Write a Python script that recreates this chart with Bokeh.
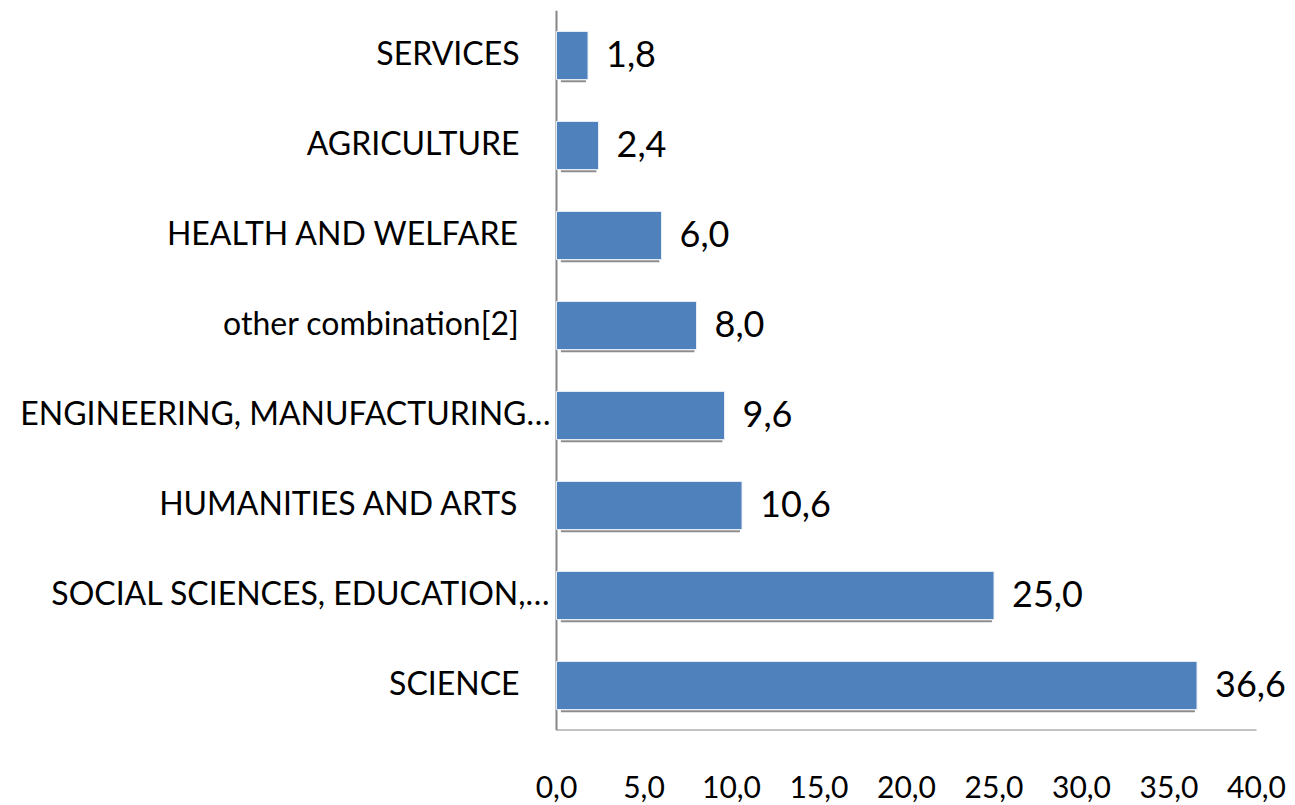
from bokeh.plotting import figure
from bokeh.models import ColumnDataSource, FixedTicker, LabelSet
from bokeh.transform import dodge
from bokeh.core.properties import value
from bokeh.embed import file_html
from bokeh.resources import INLINE

categories = ["SERVICES", "AGRICULTURE", "HEALTH AND WELFARE", "other combination[2]",
              "ENGINEERING, MANUFACTURING…", "HUMANITIES AND ARTS",
              "SOCIAL SCIENCES, EDUCATION,…", "SCIENCE"]
values = [1.8, 2.4, 6.0, 8.0, 9.6, 10.6, 25.0, 36.6]
x_ticks = [0, 5, 10, 15, 20, 25, 30, 35, 40]
x_tick_labels = ["0,0", "5,0", "10,0", "15,0", "20,0", "25,0", "30,0", "35,0", "40,0"]

FONT = "Lato"
BAR = "#4F81BD"
AXIS_GREY = "#868686"

# layout (pixels)
W, H = 1295, 805
AXIS_X = 556          # pixel of value 0
AXIS_LEN = 700        # pixels from 0 to last tick
TOP, BOTTOM = 10, 75
px_per_unit = AXIS_LEN / x_ticks[-1]
x_start = -AXIS_X / px_per_unit
x_end = (W - AXIS_X) / px_per_unit

labels = [f"{v:.1f}".replace(".", ",") for v in values]
cat_offsets = [-6 if c.endswith("…") else -37 for c in categories]
n = len(categories)

src = ColumnDataSource(dict(cat=categories, val=values, lab=labels,
                            zero=[0] * n,
                            shadow_left=[0.25] * n,
                            shadow_right=[v - 0.12 for v in values],
                            coff=cat_offsets))

p = figure(width=W, height=H, y_range=list(reversed(categories)), x_range=(x_start, x_end),
           output_backend="svg", toolbar_location=None,
           min_border_left=0, min_border_right=0, min_border_top=TOP, min_border_bottom=BOTTOM)
p.outline_line_color = None
p.xgrid.grid_line_color = None
p.ygrid.grid_line_color = None
p.background_fill_color = "white"
p.border_fill_color = "white"

# axis lines (value axis from first to last tick, category axis at zero)
p.segment(x0=[x_ticks[0]], x1=[x_ticks[-1]], y0=[(categories[-1], -0.5)], y1=[(categories[-1], -0.5)],
          line_color=AXIS_GREY, line_width=2)
p.segment(x0=[x_ticks[0]], x1=[x_ticks[0]], y0=[(categories[-1], -0.5)], y1=[(categories[0], 0.5)],
          line_color=AXIS_GREY, line_width=2)

# shadow
p.hbar(y=dodge("cat", -0.285, range=p.y_range), left="shadow_left", right="shadow_right",
       height=0.022, source=src, fill_color="#8c8c8c", line_color=None)
p.hbar(y="cat", left=0, right="val", height=0.535, source=src,
       fill_color=BAR, line_color="#e8eef6", line_width=1)

p.add_layout(LabelSet(x="val", y="cat", text="lab", source=src, x_offset=18, y_offset=2,
                      text_font=value(FONT), text_font_size="36px", text_baseline="middle",
                      text_align="left", text_color="black"))
p.add_layout(LabelSet(x="zero", y="cat", text="cat", source=src, x_offset="coff", y_offset=3,
                      text_font=value(FONT), text_font_size="32px", text_baseline="middle",
                      text_align="right", text_color="black"))

p.xaxis.ticker = FixedTicker(ticks=x_ticks)
p.xaxis.major_label_overrides = {t: l for t, l in zip(x_ticks, x_tick_labels)}
p.xaxis.major_tick_line_color = None
p.xaxis.minor_tick_line_color = None
p.xaxis.major_label_standoff = 39
p.xaxis.major_label_text_font = FONT
p.xaxis.major_label_text_font_size = "30px"
p.xaxis.major_label_text_color = "black"
p.xaxis.axis_line_color = None

p.yaxis.visible = False

open("out.html", "w").write(file_html(p, INLINE))
